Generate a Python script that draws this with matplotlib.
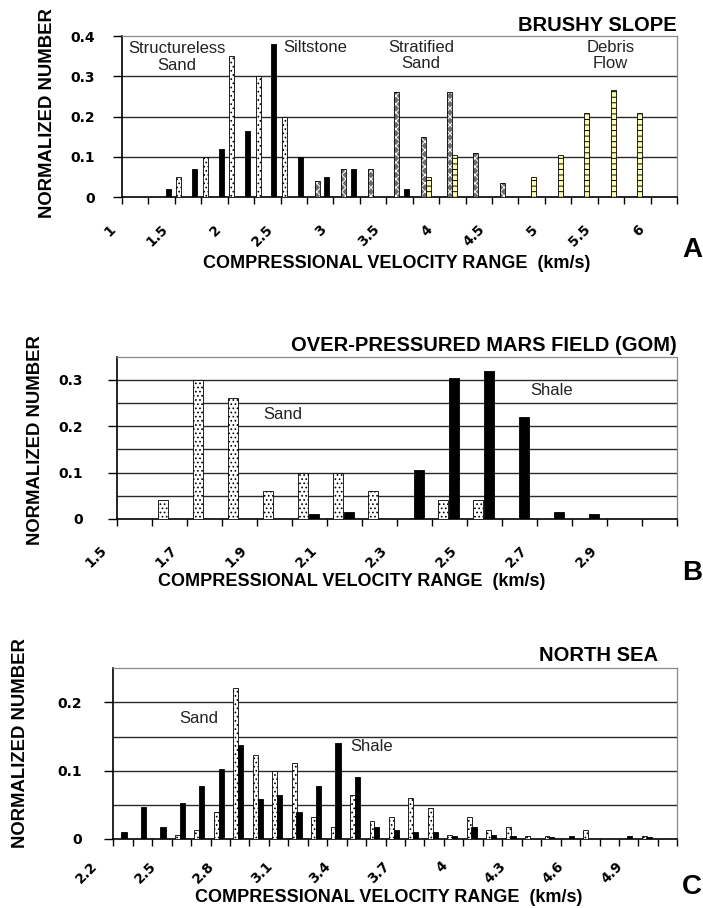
"""Normalized compressional-velocity histograms for three datasets, stacked."""

import matplotlib

matplotlib.use("Agg")
import matplotlib.pyplot as plt
from matplotlib.transforms import ScaledTranslation

W, H = 703, 908

# Brushy Slope: 0.25 km/s bins, each labelled by its lower edge
brushy_bins = [1.0, 1.25, 1.5, 1.75, 2.0, 2.25, 2.5, 2.75, 3.0, 3.25, 3.5,
               3.75, 4.0, 4.25, 4.5, 4.75, 5.0, 5.25, 5.5, 5.75, 6.0]
brushy_structureless = [0, 0, 0.05, 0.10, 0.35, 0.30, 0.20, 0, 0, 0, 0,
                        0, 0, 0, 0, 0, 0, 0, 0, 0, 0]
brushy_stratified = [0, 0, 0, 0, 0, 0, 0, 0.04, 0.07, 0.07, 0.26,
                     0.15, 0.26, 0.11, 0.035, 0, 0, 0, 0, 0, 0]
brushy_debris = [0, 0, 0, 0, 0, 0, 0, 0, 0, 0, 0,
                 0.05, 0.105, 0, 0, 0.05, 0.105, 0.21, 0.265, 0.21, 0]
brushy_siltstone = [0, 0.02, 0.07, 0.12, 0.165, 0.38, 0.10, 0.05, 0.07, 0, 0.02,
                    0, 0, 0, 0, 0, 0, 0, 0, 0, 0]

# Over-pressured Mars field (GOM): 0.1 km/s bins
mars_bins = [1.5, 1.6, 1.7, 1.8, 1.9, 2.0, 2.1, 2.2, 2.3, 2.4, 2.5,
             2.6, 2.7, 2.8, 2.9, 3.0]
mars_sand = [0, 0.04, 0.30, 0.26, 0.06, 0.10, 0.10, 0.06, 0, 0.04, 0.04,
             0, 0, 0, 0, 0]
mars_shale = [0, 0, 0, 0, 0, 0.01, 0.015, 0, 0.105, 0.305, 0.32,
              0.22, 0.015, 0.01, 0, 0]

# North Sea: 0.1 km/s bins
north_bins = [2.2, 2.3, 2.4, 2.5, 2.6, 2.7, 2.8, 2.9, 3.0, 3.1, 3.2, 3.3,
              3.4, 3.5, 3.6, 3.7, 3.8, 3.9, 4.0, 4.1, 4.2, 4.3, 4.4, 4.5,
              4.6, 4.7, 4.8, 4.9, 5.0]
north_sand = [0, 0, 0, 0.006, 0.013, 0.039, 0.221, 0.123, 0.099, 0.111, 0.032, 0.018,
              0.065, 0.026, 0.032, 0.060, 0.045, 0.006, 0.032, 0.013, 0.018, 0.005,
              0.005, 0, 0.013, 0, 0, 0.005, 0]
north_shale = [0.01, 0.047, 0.018, 0.052, 0.078, 0.102, 0.138, 0.058, 0.064, 0.039, 0.078, 0.141,
               0.091, 0.018, 0.013, 0.01, 0.01, 0.004, 0.017, 0.006, 0.004, 0,
               0.003, 0.005, 0, 0, 0.004, 0.003, 0]

XLABEL = "COMPRESSIONAL VELOCITY RANGE  (km/s)"
YLABEL = "NORMALIZED NUMBER"
TICK_FONT = "DejaVu Sans"
TEXT_FONT = "Liberation Sans"

SAND = dict(facecolor="white", edgecolor="black", hatch="....", linewidth=0.6)
SHALE = dict(facecolor="black", edgecolor="black", linewidth=0.6)
DEBRIS = dict(facecolor="#ffffb4", edgecolor="black", hatch="---", linewidth=0.6)

plt.rcParams["hatch.linewidth"] = 0.7


def fig_box(left, top, right, bottom):
    return [left / W, 1 - bottom / H, (right - left) / W, (bottom - top) / H]


def draw_series(ax, bins, values, step, offset, width, **style):
    xs = [b + offset * step for b, v in zip(bins, values) if v > 0]
    hs = [v for v in values if v > 0]
    return ax.bar(xs, hs, width=width * step, zorder=3, **style)


def draw_crosshatch(ax, bins, values, step, offset, width):
    draw_series(ax, bins, values, step, offset, width,
                facecolor="#6e6e6e", edgecolor="white", hatch="xxxx", linewidth=0)
    draw_series(ax, bins, values, step, offset, width,
                facecolor="none", edgecolor="black", linewidth=0.6)


def style_axes(ax, bins, step, ymax, yticks, grid, every, dx, dy, ypad):
    edges = bins + [round(bins[-1] + step, 2)]
    ax.set_xlim(edges[0], edges[-1])
    ax.set_ylim(0, ymax)
    ax.set_xticks(edges)
    ax.set_xticklabels([f"{e:g}" if i % every == 0 and i < len(bins) else ""
                        for i, e in enumerate(edges)],
                       fontfamily=TICK_FONT, fontweight="bold", fontsize=9.8)
    ax.tick_params(axis="x", direction="out", length=5, width=1, pad=0)
    shift = ScaledTranslation(dx / 100, -dy / 100, ax.figure.dpi_scale_trans)
    for lab in ax.get_xticklabels():
        lab.set_rotation(45)
        lab.set_rotation_mode("anchor")
        lab.set_horizontalalignment("right")
        lab.set_verticalalignment("center")
        lab.set_transform(lab.get_transform() + shift)

    ax.set_yticks(yticks)
    ax.set_yticklabels([f"{v:g}" for v in yticks],
                       fontfamily=TICK_FONT, fontweight="bold", fontsize=10)
    ax.tick_params(axis="y", direction="out", length=6.5, width=1, pad=ypad)

    for g in grid:
        ax.axhline(g, color="#2a2a2a", linewidth=1.0, zorder=1)
    for side in ("left", "bottom"):
        ax.spines[side].set_color("black")
        ax.spines[side].set_linewidth(1.2)
    for side in ("top", "right"):
        ax.spines[side].set_color("#8a8a8a")
        ax.spines[side].set_linewidth(0.9)


def note(ax, x, y, s):
    ax.text(x, y, s, ha="center", va="center", fontsize=12,
            fontfamily=TEXT_FONT, color="#222222", linespacing=1.1, zorder=4)


def fig_text(fig, px, py, s, **kw):
    fig.text(px / W, 1 - py / H, s, fontfamily=TEXT_FONT, **kw)


fig = plt.figure(figsize=(W / 100, H / 100), dpi=100)

# --- A: Brushy Slope ---
ax_a = fig.add_axes(fig_box(122, 36, 677, 197.3))
draw_series(ax_a, brushy_bins, brushy_structureless, 0.25, 0.15, 0.19, **SAND)
draw_crosshatch(ax_a, brushy_bins, brushy_stratified, 0.25, 0.39, 0.19)
draw_series(ax_a, brushy_bins, brushy_debris, 0.25, 0.58, 0.19, **DEBRIS)
draw_series(ax_a, brushy_bins, brushy_siltstone, 0.25, 0.75, 0.19, **SHALE)
style_axes(ax_a, brushy_bins, 0.25, 0.4, [0, 0.1, 0.2, 0.3, 0.4],
           [0.1, 0.2, 0.3], 2, -9, 23, 13)
note(ax_a, 1.52, 0.348, "Structureless\nSand")
note(ax_a, 2.83, 0.371, "Siltstone")
note(ax_a, 3.83, 0.351, "Stratified\nSand")
note(ax_a, 5.62, 0.352, "Debris\nFlow")

# --- B: Mars field ---
ax_b = fig.add_axes(fig_box(116.7, 356.7, 677.3, 519))
draw_series(ax_b, mars_bins, mars_sand, 0.1, 0.32, 0.29, **SAND)
draw_series(ax_b, mars_bins, mars_shale, 0.1, 0.63, 0.29, **SHALE)
style_axes(ax_b, mars_bins, 0.1, 0.35, [0, 0.1, 0.2, 0.3],
           [0.05, 0.1, 0.15, 0.2, 0.25, 0.3], 2, -12, 22, 18)
note(ax_b, 1.975, 0.226, "Sand")
note(ax_b, 2.74, 0.278, "Shale")

# --- C: North Sea ---
ax_c = fig.add_axes(fig_box(113.3, 668.3, 677.3, 839))
draw_series(ax_c, north_bins, north_sand, 0.1, 0.30, 0.25, **SAND)
draw_series(ax_c, north_bins, north_shale, 0.1, 0.55, 0.27, **SHALE)
style_axes(ax_c, north_bins, 0.1, 0.25, [0, 0.1, 0.2],
           [0.05, 0.1, 0.15, 0.2], 3, -18, 18, 16)
note(ax_c, 2.64, 0.177, "Sand")
note(ax_c, 3.53, 0.135, "Shale")

# Titles, axis captions and panel letters
for (tx, ty), title in [((677, 25.5), "BRUSHY SLOPE"),
                        ((677, 345.5), "OVER-PRESSURED MARS FIELD (GOM)"),
                        ((658, 655.5), "NORTH SEA")]:
    fig_text(fig, tx, ty, title, ha="right", va="center", fontsize=14.5, fontweight="bold")

for (lx, ly) in [(47.5, 113), (36, 440), (21, 743)]:
    fig_text(fig, lx, ly, YLABEL, ha="center", va="center", rotation=90,
             fontsize=13.3, fontweight="bold")

for (xx, xy) in [(397, 264), (352, 581), (389, 898)]:
    fig_text(fig, xx, xy, XLABEL, ha="center", va="center", fontsize=13, fontweight="bold")

for (px, py), letter in [((692, 250), "A"), ((692, 573), "B"), ((692, 887), "C")]:
    fig_text(fig, px, py, letter, ha="center", va="center", fontsize=20, fontweight="bold")

fig.savefig("out.png", dpi=100)
